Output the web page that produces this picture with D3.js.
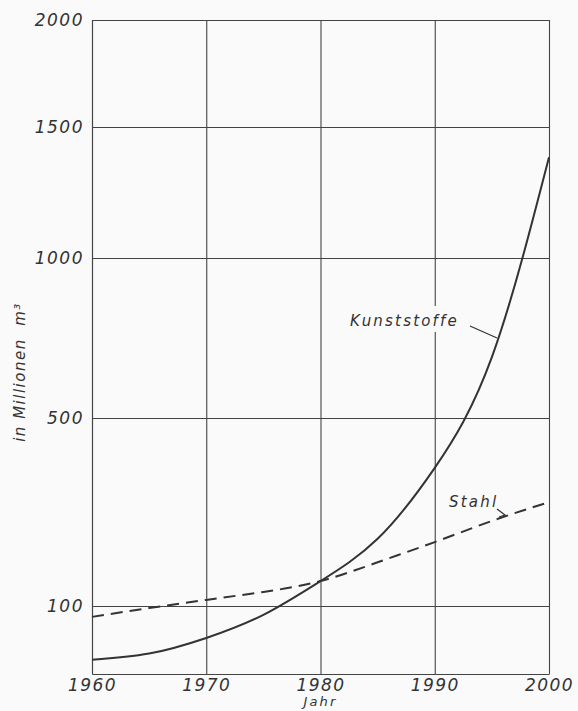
<!DOCTYPE html>
<html>
<head>
<meta charset="utf-8">
<script src="https://cdn.jsdelivr.net/npm/d3@7"></script>
<style>
    body { margin: 0; background: #fafafa; }
    svg { display: block; }
    .tick text { font-family: "DejaVu Sans", sans-serif; font-style: italic; font-size: 17px; fill: #333; letter-spacing: 1.5px; }
    .tick line, .domain { stroke: #444; stroke-width: 1.1; }
    .lbl { font-family: "DejaVu Sans", sans-serif; font-style: italic; font-size: 15px; fill: #333; letter-spacing: 2.2px; }
</style>
</head>
<body>
<svg width="578" height="711"></svg>
<script>
var years = [1960, 1965, 1970, 1975, 1980, 1985, 1990, 1995, 2000];
var kunststoffe = [21, 30, 53, 87, 153, 243, 394, 690, 1385];
var stahl = [84, 97, 113, 130, 153, 193, 236, 281, 321];
var xTicks = [1960, 1970, 1980, 1990, 2000];
var yTicks = [100, 500, 1000, 1500, 2000];
// the printed value axis is not linear, so the scale follows the gridlines
var yBreaks = [0, 100, 500, 1000, 1500, 2000];

var svg = d3.select('svg');
var mLeft = 92, mRight = 549, mTop = 20, mBottom = 674;

var x = d3.scaleLinear().domain([1960, 2000]).range([mLeft, mRight]);
var y = d3.scaleLinear().domain(yBreaks).range([674, 606, 418, 258, 127, 20]);

svg.append('g')
    .attr('transform', 'translate(0,' + mBottom + ')')
    .call(d3.axisBottom(x).tickValues(xTicks).tickFormat(d3.format('d'))
        .tickSize(-(mBottom - mTop)).tickSizeOuter(0).tickPadding(3))
    .call(function (g) { g.selectAll('text').attr('dy', '0.85em'); });

svg.append('g')
    .attr('transform', 'translate(' + mLeft + ',0)')
    .call(d3.axisLeft(y).tickValues(yTicks).tickFormat(d3.format('d'))
        .tickSize(-(mRight - mLeft)).tickSizeOuter(0).tickPadding(8));

svg.selectAll('.domain').attr('fill', 'none');

var line = function (vals) {
    return d3.line()
        .x(function (d, i) { return x(years[i]); })
        .y(function (d) { return y(d); })
        .curve(d3.curveNatural)(vals);
};

svg.append('path')
    .attr('d', line(stahl))
    .attr('fill', 'none')
    .attr('stroke', '#333')
    .attr('stroke-width', 2)
    .attr('stroke-dasharray', '12,7');

svg.append('path')
    .attr('d', line(kunststoffe))
    .attr('fill', 'none')
    .attr('stroke', '#333')
    .attr('stroke-width', 2);

// labels
svg.append('rect')
    .attr('x', 346).attr('y', 306).attr('width', 122).attr('height', 26)
    .attr('fill', '#fafafa');
svg.append('text').attr('class', 'lbl')
    .attr('x', 350).attr('y', 326).text('Kunststoffe');
svg.append('line')
    .attr('x1', 470).attr('y1', 326).attr('x2', 497).attr('y2', 338)
    .attr('stroke', '#333').attr('stroke-width', 1.3);

svg.append('text').attr('class', 'lbl')
    .attr('x', 449).attr('y', 507).text('Stahl');
svg.append('path')
    .attr('d', 'M497,509L505,515L499,517')
    .attr('fill', 'none')
    .attr('stroke', '#333').attr('stroke-width', 1.3);

svg.append('text').attr('class', 'lbl')
    .attr('transform', 'translate(25,372) rotate(-90)')
    .attr('text-anchor', 'middle')
    .attr('xml:space', 'preserve')
    .style('letter-spacing', '1.5px')
    .text('in Millionen  m³');

svg.append('text').attr('class', 'lbl')
    .attr('x', x(1980)).attr('y', 706)
    .attr('text-anchor', 'middle')
    .style('font-size', '13px')
    .text('Jahr');
</script>
</body>
</html>
